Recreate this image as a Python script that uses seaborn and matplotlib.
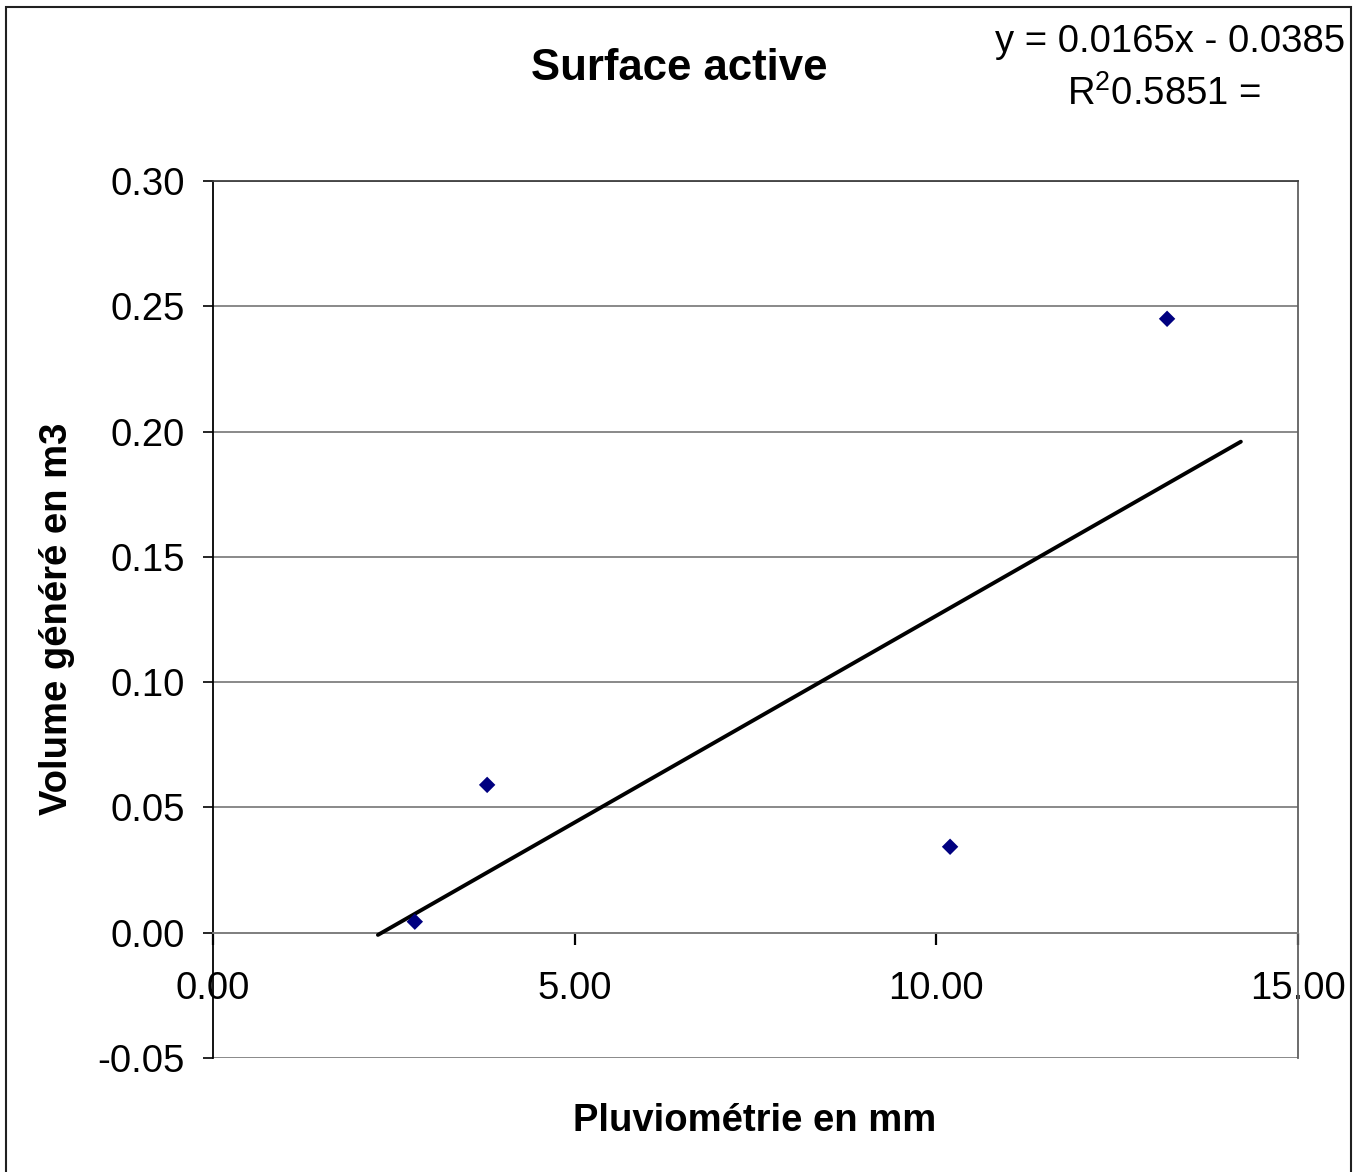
import matplotlib
matplotlib.use("Agg")
import matplotlib.pyplot as plt
import matplotlib.patches as mpatches
import seaborn as sns
import pandas as pd
import numpy as np

# Data
pluvio = [2.79, 3.79, 10.19, 13.19]
volume = [0.0044, 0.059, 0.0343, 0.245]
slope = 0.0165
intercept = -0.0385
trend_x = [2.28, 14.21]
x_ticks = [0, 5, 10, 15]
y_ticks = [-0.05, 0.0, 0.05, 0.10, 0.15, 0.20, 0.25, 0.30]
title = "Surface active"
xlabel = "Pluviométrie en mm"
ylabel = "Volume généré en m3"
eq_line1 = "y = 0.0165x - 0.0385"
eq_line2 = r"R$^{2}$0.5851 ="

sns.set_theme(style="white")
plt.rcParams['font.family'] = ['Liberation Sans', 'DejaVu Sans']
plt.rcParams['mathtext.fontset'] = 'custom'
plt.rcParams['mathtext.rm'] = 'Liberation Sans'
plt.rcParams['mathtext.it'] = 'Liberation Sans'
plt.rcParams['mathtext.bf'] = 'Liberation Sans:bold'

W, H = 1365, 1172
fig = plt.figure(figsize=(W / 100, H / 100), dpi=100)
fig.patch.set_facecolor("white")

left, right, top, bottom = 213, 1298, 181, 1058
ax = fig.add_axes([left / W, 1 - bottom / H, (right - left) / W, (bottom - top) / H])

df = pd.DataFrame({"x": pluvio, "y": volume})
trend = pd.DataFrame({"x": trend_x, "y": [slope * v + intercept for v in trend_x]})

sns.lineplot(data=trend, x="x", y="y", ax=ax, color="black", linewidth=2.8, zorder=3)
sns.scatterplot(data=df, x="x", y="y", ax=ax, marker="D", s=70, color="#000080",
                edgecolor="none", zorder=4)

ax.set_xlim(0, 15)
ax.set_ylim(-0.05, 0.30)
ax.set_xticks(x_ticks)
ax.set_xticklabels([f"{v:.2f}" for v in x_ticks])
ax.set_yticks(y_ticks)
ax.set_yticklabels([f"{v:.2f}" for v in y_ticks])
ax.set_xlabel("")
ax.set_ylabel("")

ax.yaxis.grid(True, color="#808080", linewidth=1.3)
ax.xaxis.grid(False)
ax.set_axisbelow(True)

ax.spines["bottom"].set_position(("data", 0))
ax.spines["bottom"].set_color("#808080")
ax.spines["bottom"].set_linewidth(1.3)
ax.spines["left"].set_color("black")
ax.spines["left"].set_linewidth(1.3)
ax.spines["right"].set_color("#606060")
ax.spines["right"].set_linewidth(1.3)
ax.spines["top"].set_color("#404040")
ax.spines["top"].set_linewidth(1.3)

ax.tick_params(axis="x", direction="out", length=8.5, width=1.6, color="black",
               labelsize=27.5, pad=19, bottom=True)
ax.tick_params(axis="y", direction="out", length=7.5, width=1.2, color="black",
               labelsize=27.5, pad=13, left=True)
for lab in ax.get_xticklabels() + ax.get_yticklabels():
    lab.set_color("black")

fig.text(679 / W, 1 - 68 / H, title, ha="center", va="center",
         fontsize=31.5, fontweight="bold", color="black")
fig.text(755 / W, 1 - 1121 / H, xlabel, ha="center", va="center",
         fontsize=27.5, fontweight="bold", color="black")
fig.text(57 / W, 1 - 619 / H, ylabel, ha="center", va="center", rotation=90,
         fontsize=27.5, fontweight="bold", color="black")
fig.text(1170 / W, 1 - 42 / H, eq_line1, ha="center", va="center",
         fontsize=27.5, color="black")
fig.text(1164 / W, 1 - 94 / H, eq_line2, ha="center", va="center",
         fontsize=27.5, color="black")

border = mpatches.Rectangle((6 / W, -0.02), (1351 - 6) / W, 1 - 7 / H + 0.02,
                            transform=fig.transFigure, fill=False,
                            edgecolor="#202020", linewidth=1.5)
fig.patches.append(border)

fig.savefig("out.png", dpi=100)
